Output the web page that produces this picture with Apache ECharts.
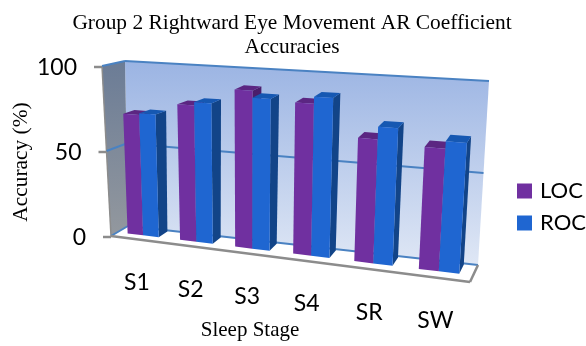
<!DOCTYPE html>
<html>
<head>
<meta charset="utf-8">
<style>html,body{margin:0;padding:0;background:#fff}#chart{width:586px;height:346px}</style>
<script src="https://cdn.jsdelivr.net/npm/echarts@6/dist/echarts.min.js"></script>
</head>
<body>
<div id="chart"></div>
<script>
var categories = ['S1', 'S2', 'S3', 'S4', 'SR', 'SW'];
var locValues = [71, 79, 90, 85, 68, 66];
var rocValues = [72, 81, 86, 89, 75, 70];
var valueTicks = [100, 50, 0];

// corners of the 3d box on screen, front face then back face
var box = {
	fbl: [111, 236], fbr: [470, 282], ftl: [102, 66], ftr: [482, 92],
	bbl: [128, 226], bbr: [478, 265], btl: [125, 61], btr: [489, 81]
};
var PERSP = 1.17;   // later categories get wider
var BAR_Z0 = 0.38, BAR_Z1 = 0.92;
var BAR_W = 0.3;    // of a category band

function lerp(a, b, t) {
	return [a[0] + (b[0] - a[0]) * t, a[1] + (b[1] - a[1]) * t];
}
function project(t, w, z) {
	t = t / (PERSP - (PERSP - 1) * t);
	var front = lerp(lerp(box.fbl, box.fbr, t), lerp(box.ftl, box.ftr, t), w);
	var back = lerp(lerp(box.bbl, box.bbr, t), lerp(box.btl, box.btr, t), w);
	return lerp(front, back, z);
}
// category index + band offset and a value, through the axes, into the box
function place(params, api, i, off, v, z) {
	var c = api.coord([i, v]);
	var s = params.coordSys;
	var t = (c[0] + off * api.size([1, 0])[0] - s.x) / s.width;
	return project(t, (s.y + s.height - c[1]) / s.height, z);
}
function poly(points, fill) {
	return {type: 'polygon', shape: {points: points}, style: {fill: fill}};
}
function seg(a, b, color, width) {
	return {type: 'line', shape: {x1: a[0], y1: a[1], x2: b[0], y2: b[1]}, style: {stroke: color, lineWidth: width}};
}
function grad(top, bottom) {
	return new echarts.graphic.LinearGradient(0, 0, 0, 1, [{offset: 0, color: top}, {offset: 1, color: bottom}]);
}

function renderWalls(params, api) {
	var last = categories.length - 1;
	var p = function (i, off, v, z) { return place(params, api, i, off, v, z); };
	var kids = [];
	kids.push(poly([p(0, -0.5, 0, 1), p(last, 0.5, 0, 1), p(last, 0.5, 100, 1), p(0, -0.5, 100, 1)], grad('#9bb4e3', '#dfe7f5')));
	kids.push(poly([p(0, -0.5, 0, 0), p(0, -0.5, 0, 1), p(0, -0.5, 100, 1), p(0, -0.5, 100, 0)], grad('#6b7c96', '#93989e')));
	// side wall edge
	kids.push(seg(p(0, -0.5, 0, 0), p(0, -0.5, 100, 0), '#8c8c8c', 1.5));
	// grid lines
	for (var n = 0; n < valueTicks.length; n++) {
		var v = valueTicks[n];
		kids.push(seg(p(0, -0.5, v, 0), p(0, -0.5, v, 1), '#4a82c2', 2));
		kids.push(seg(p(0, -0.5, v, 1), p(last, 0.5, v, 1), '#4a82c2', 2));
		var tick = p(0, -0.5, v, 0);
		kids.push(seg([tick[0] - 8, tick[1] + 1], [tick[0], tick[1] + 1], '#8c8c8c', 2.5));
		kids.push({type: 'text', style: {text: String(v), x: tick[0] - 25, y: tick[1] + 2, fill: '#000', font: '23px Lato', align: 'right', verticalAlign: 'middle'}});
	}
	// floor edge
	kids.push(seg(p(0, -0.5, 0, 0), p(last, 0.5, 0, 0), '#8c8c8c', 2.5));
	kids.push(seg(p(last, 0.5, 0, 0), p(last, 0.5, 0, 1), '#8c8c8c', 2.5));
	for (var i = 0; i <= last; i++) {
		var f = p(i, 0, 0, 0);
		kids.push({type: 'text', style: {text: categories[i], x: f[0], y: f[1] + 43, fill: '#000', font: '23px Lato', align: 'center', verticalAlign: 'middle'}});
	}
	return {type: 'group', children: kids};
}

function barRenderer(off0, off1, front, top, side) {
	return function (params, api) {
		var i = api.value(0), v = api.value(1);
		var p = function (off, val, z) { return place(params, api, i, off, val, z); };
		return {type: 'group', children: [
			poly([p(off1, 0, BAR_Z0), p(off1, 0, BAR_Z1), p(off1, v, BAR_Z1), p(off1, v, BAR_Z0)], side),
			poly([p(off0, v, BAR_Z0), p(off1, v, BAR_Z0), p(off1, v, BAR_Z1), p(off0, v, BAR_Z1)], top),
			poly([p(off0, 0, BAR_Z0), p(off1, 0, BAR_Z0), p(off1, v, BAR_Z0), p(off0, v, BAR_Z0)], front)
		]};
	};
}
function pairs(values) {
	var out = [];
	for (var i = 0; i < values.length; i++) out.push([i, values[i]]);
	return out;
}

var option = {
	animation: false,
	title: {
		text: 'Group 2 Rightward Eye Movement AR Coefficient\nAccuracies',
		left: 292, top: 11, textAlign: 'center', padding: 0,
		textStyle: {fontFamily: 'Liberation Serif', fontWeight: 'normal', fontSize: 21.4, lineHeight: 24, color: '#000'}
	},
	legend: {
		left: 517, top: 180, orient: 'vertical', itemWidth: 15, itemHeight: 15, itemGap: 10, padding: 0,
		icon: 'rect', selectedMode: false,
		textStyle: {fontFamily: 'Lato', fontSize: 22, color: '#000', padding: [0, 0, 0, 3]},
		data: ['LOC', 'ROC']
	},
	grid: {left: 110, width: 280, top: 80, height: 176},
	xAxis: {
		type: 'category', data: categories,
		name: 'Sleep Stage', nameLocation: 'middle', nameGap: 76,
		nameTextStyle: {fontFamily: 'Liberation Serif', fontSize: 21, color: '#000'},
		axisLine: {show: false}, axisTick: {show: false}, axisLabel: {show: false}, splitLine: {show: false}
	},
	yAxis: {
		type: 'value', min: 0, max: 100,
		name: 'Accuracy (%)', nameLocation: 'middle', nameGap: 78,
		nameTextStyle: {fontFamily: 'Liberation Serif', fontSize: 21.4, color: '#000'},
		axisLine: {show: false}, axisTick: {show: false}, axisLabel: {show: false}, splitLine: {show: false}
	},
	series: [
		{type: 'custom', name: 'walls', silent: true, clip: false, data: [[0, 0]], encode: {x: 0, y: 1}, renderItem: renderWalls},
		{type: 'custom', name: 'LOC', silent: true, clip: false, itemStyle: {color: '#7030a0'}, data: pairs(locValues), encode: {x: 0, y: 1},
			renderItem: barRenderer(-BAR_W, 0, '#7030a0', '#5b2682', '#4b1e6b')},
		{type: 'custom', name: 'ROC', silent: true, clip: false, itemStyle: {color: '#1f66d1'}, data: pairs(rocValues), encode: {x: 0, y: 1},
			renderItem: barRenderer(0, BAR_W, '#1f66d1', '#1658b2', '#124488')}
	]
};
var chart = echarts.init(document.getElementById('chart'));
chart.setOption(option);
</script>
</body>
</html>
